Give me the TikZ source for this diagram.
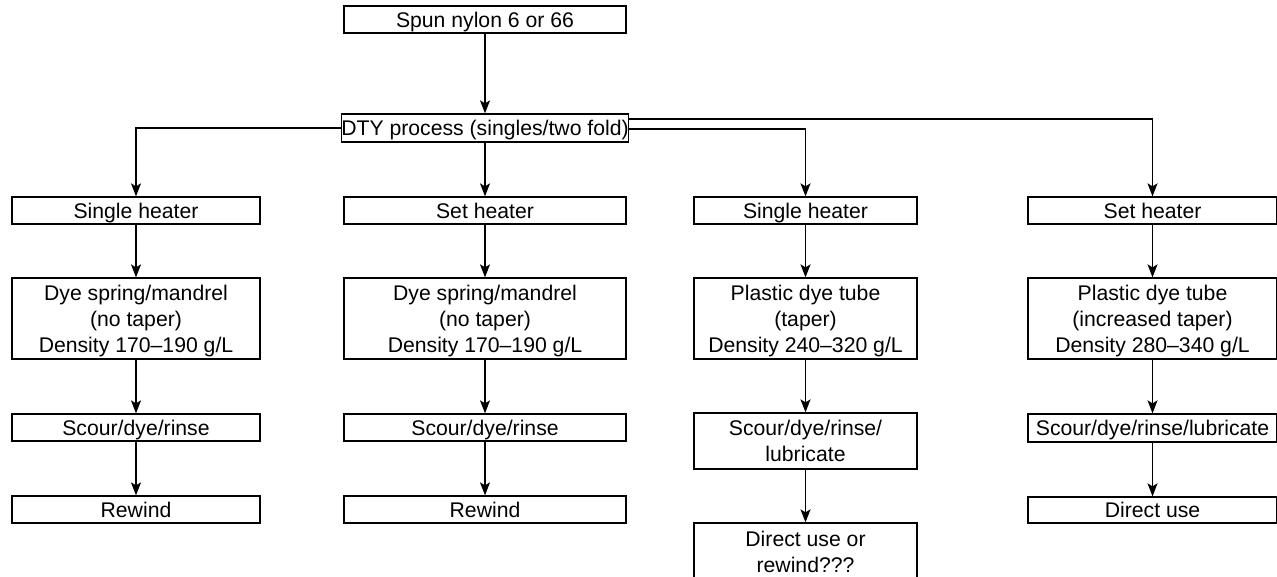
\documentclass[tikz,border=0pt]{standalone}
\usepackage{fontspec}
\setmainfont{Liberation Sans}
\usetikzlibrary{arrows.meta}
\begin{document}
\begin{tikzpicture}[x=0.5pt,y=-0.5pt,
  box/.style={draw, line width=0.65pt, inner sep=0pt, align=center, text depth=0pt,
    font=\fontsize{10.6pt}{13pt}\selectfont},
  one/.style={text height=7.6pt},
  sz/.style 2 args={minimum width=#1*0.5pt, minimum height=#2*0.5pt},
  arr/.style={line width=0.65pt, -{Stealth[length=6.5pt,width=5pt,inset=1.5pt]}}]
\clip (0,0) rectangle (1277,577);
\useasboundingbox (0,0) rectangle (1277,577);
% top
\node[box, one, sz={282}{27}] (top) at (485,19.5) {Spun nylon 6 or 66};
\node[box, one, sz={282}{28}] (dty) at (485,128) {DTY process (singles/two fold)};
% heaters
\node[box, one, sz={248}{27}] (h1) at (136,210.5) {Single heater};
\node[box, one, sz={282}{27}] (h2) at (485,210.5) {Set heater};
\node[box, one, sz={223}{27}] (h3) at (805.5,210.5) {Single heater};
\node[box, one, sz={249}{27}] (h4) at (1152.5,210.5) {Set heater};
% dye packages
\node[box, sz={248}{81}] (d1) at (136,318.5) {Dye spring/mandrel\\(no taper)\\Density 170–190 g/L};
\node[box, sz={282}{81}] (d2) at (485,318.5) {Dye spring/mandrel\\(no taper)\\Density 170–190 g/L};
\node[box, sz={223}{81}] (d3) at (805.5,318.5) {Plastic dye tube\\(taper)\\Density 240–320 g/L};
\node[box, sz={249}{81}] (d4) at (1152.5,318.5) {Plastic dye tube\\(increased taper)\\Density 280–340 g/L};
% scour
\node[box, one, sz={248}{27}] (s1) at (136,427.5) {Scour/dye/rinse};
\node[box, one, sz={282}{27}] (s2) at (485,427.5) {Scour/dye/rinse};
\node[box, sz={223}{56}] (s3) at (805.5,441) {Scour/dye/rinse/\\lubricate};
\node[box, one, sz={249}{28}] (s4) at (1152.5,428) {Scour/dye/rinse/lubricate};
% final
\node[box, one, sz={248}{27}] (r1) at (136,509.5) {Rewind};
\node[box, one, sz={282}{27}] (r2) at (485,509.5) {Rewind};
\node[box, sz={223}{57}] (u3) at (805.5,551.5) {Direct use or\\rewind???};
\node[box, one, sz={249}{26}] (u4) at (1152.5,510) {Direct use};
% connectors
\draw[arr] (top) -- (dty);
\draw[arr] (dty.west) -| (h1);
\draw[arr] (dty) -- (h2);
\draw[arr] ([yshift=-0.5pt]dty.east) -| (h3);
\draw[arr] ([yshift=4.5pt]dty.east) -| (h4);
\foreach \c in {1,2,3,4}{
  \draw[arr] (h\c) -- (d\c);
  \draw[arr] (d\c) -- (s\c);
}
\draw[arr] (s1) -- (r1);
\draw[arr] (s2) -- (r2);
\draw[arr] (s3) -- (u3);
\draw[arr] (s4) -- (u4);
\end{tikzpicture}
\end{document}
